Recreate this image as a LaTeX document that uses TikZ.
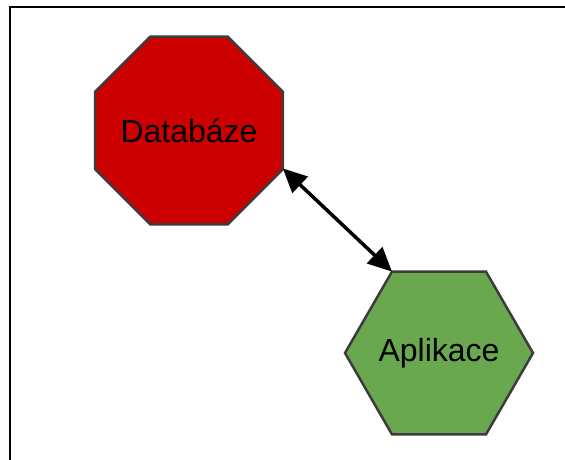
\documentclass[tikz,border=0pt]{standalone}
\usepackage{fontspec}
\setmainfont{Liberation Sans}
\usetikzlibrary{shapes.geometric,arrows.meta}
\definecolor{dbred}{HTML}{CC0000}
\definecolor{appgreen}{HTML}{6AA84F}
\definecolor{edgegray}{HTML}{3C3C3C}
\tikzset{
  every label/.style={font=\fontsize{32}{38}\selectfont, text=black},
  shapebox/.style={draw=edgegray, line width=2.5pt, outer sep=0pt, inner sep=0pt},
  octa/.style={shapebox, regular polygon, regular polygon sides=8, fill=dbred},
  hexa/.style={shapebox, regular polygon, regular polygon sides=6, fill=appgreen},
  link/.style={line width=3.5pt, black,
    {Triangle[length=24pt,width=22pt]}-{Triangle[length=24pt,width=22pt]}},
  frame/.style={line width=2pt, black}
}
\begin{document}
\begin{tikzpicture}[x=1pt, y=-1pt]
  \useasboundingbox (0,0) rectangle (565,460);
  % partial frame along the left and top edges
  \coordinate (fbl) at (9.5,460);
  \coordinate (ftl) at (9.5,7);
  \coordinate (ftr) at (565,7);
  \draw[frame] (fbl) -- (ftl) -- (ftr);
  % the two components
  \node[octa, minimum size=203pt, label={center:Databáze}] (db) at (189,130.5) {};
  \node[hexa, minimum size=188pt, label={center:Aplikace}] (app) at (439,353) {};
  % two-way link between them
  \draw[link] (db.-22.5) -- (app.120);
\end{tikzpicture}
\end{document}
